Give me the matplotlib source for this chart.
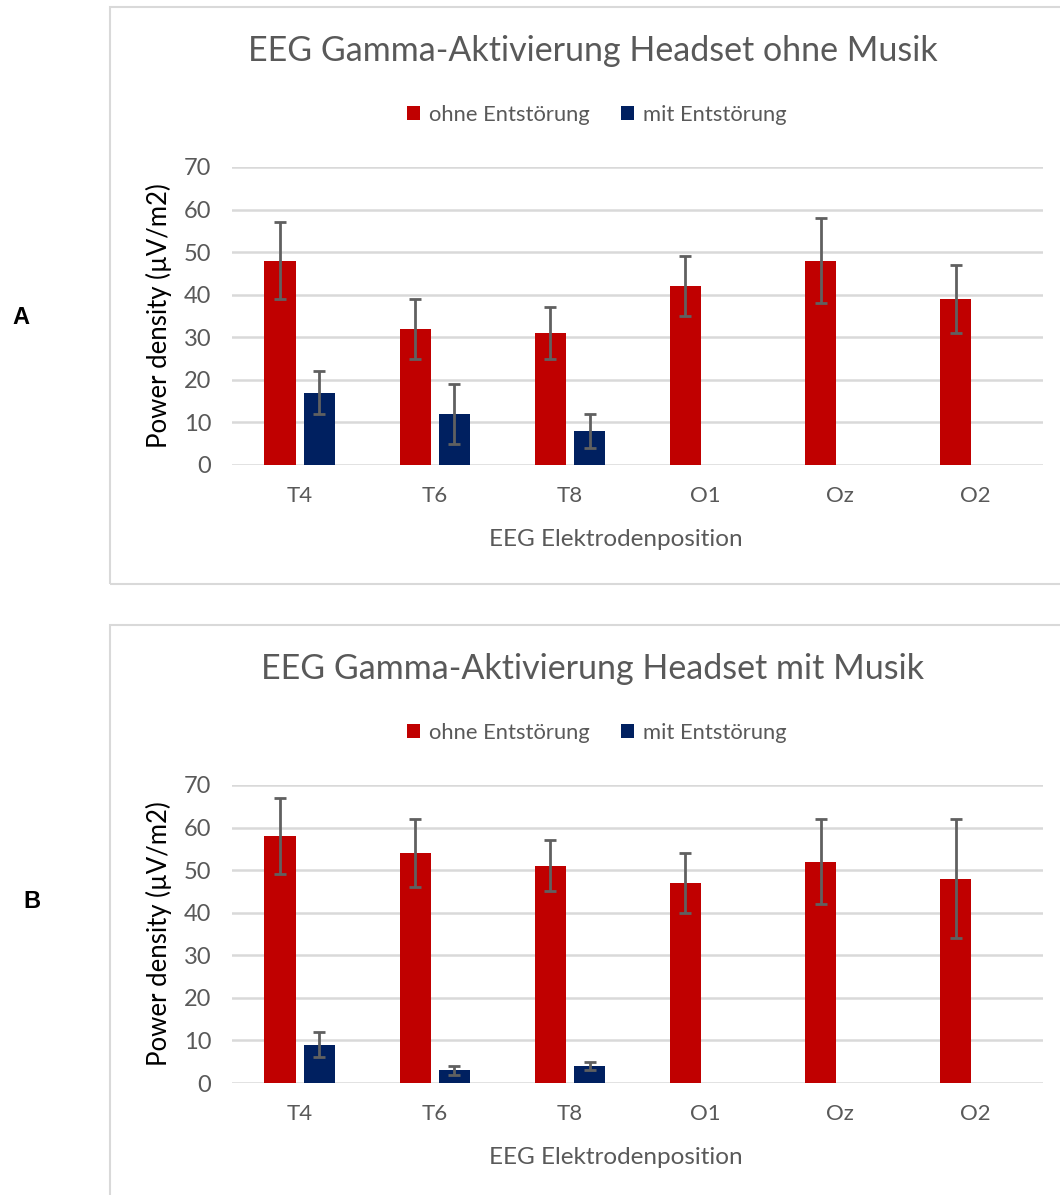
import numpy as np
import matplotlib.pyplot as plt
from matplotlib.patches import Rectangle

# data
electrodes = ["T4", "T6", "T8", "O1", "Oz", "O2"]

a_ohne = [48, 32, 31, 42, 48, 39]
a_ohne_lo = [39, 25, 25, 35, 38, 31]
a_ohne_hi = [57, 39, 37, 49, 58, 47]
a_mit = [17, 12, 8]
a_mit_lo = [12, 5, 4]
a_mit_hi = [22, 19, 12]

b_ohne = [58, 54, 51, 47, 52, 48]
b_ohne_lo = [49, 46, 45, 40, 42, 34]
b_ohne_hi = [67, 62, 57, 54, 62, 62]
b_mit = [9, 3, 4]
b_mit_lo = [6, 2, 3]
b_mit_hi = [12, 4, 5]

titles = ["EEG Gamma-Aktivierung Headset ohne Musik",
          "EEG Gamma-Aktivierung Headset mit Musik"]

red = "#c00000"
navy = "#002060"
grey = "#595959"
grid = "#d9d9d9"
font = "Lato"

fig = plt.figure(figsize=(10.6, 11.95), dpi=100)

# frames round each chart
fig.patches.append(Rectangle((110/1060, 1-584/1195), 1.0, 577/1195, transform=fig.transFigure,
                             fill=False, edgecolor=grid, lw=1.5))
fig.patches.append(Rectangle((110/1060, -0.01), 1.0, 1-625/1195+0.01, transform=fig.transFigure,
                             fill=False, edgecolor=grid, lw=1.5))

def draw(bottom, vals, lo, hi, mvals, mlo, mhi, title, letter, lx, ly, top_px):
    ax = fig.add_axes([0.2189, bottom, 0.765, 0.2494])
    x = np.arange(len(electrodes))
    w = 0.23
    vals = np.array(vals)
    err = [vals - np.array(lo), np.array(hi) - vals]
    ax.bar(x - 0.145, vals, w, color=red, label="ohne Entstörung", zorder=2)
    ax.errorbar(x - 0.145, vals, yerr=err, fmt="none", ecolor="#606060", elinewidth=2,
                capsize=4.5, capthick=2, zorder=3)
    xm = x[:len(mvals)]
    mvals = np.array(mvals)
    merr = [mvals - np.array(mlo), np.array(mhi) - mvals]
    ax.bar(xm + 0.145, mvals, w, color=navy, label="mit Entstörung", zorder=2)
    ax.errorbar(xm + 0.145, mvals, yerr=merr, fmt="none", ecolor="#606060", elinewidth=2,
                capsize=4.5, capthick=2, zorder=3)
    ax.set_xlim(-0.5, 5.5)
    ax.set_ylim(0, 70)
    ax.set_yticks(range(0, 71, 10))
    ax.set_xticks(x)
    ax.set_xticklabels(electrodes)
    ax.yaxis.grid(True, color=grid, lw=1.8, zorder=0)
    ax.set_axisbelow(True)
    for s in ax.spines.values():
        s.set_visible(False)
    ax.tick_params(axis="y", length=0, labelsize=17, labelcolor=grey, pad=15)
    ax.tick_params(axis="x", length=0, labelsize=16, labelcolor=grey, pad=15)
    for lab in ax.get_xticklabels() + ax.get_yticklabels():
        lab.set_fontfamily(font)
    ax.set_ylabel("Power density (µV/m2)", fontsize=18.5, color="black", family=font, labelpad=8)
    ax.set_xlabel("EEG Elektrodenposition", fontsize=17.5, color=grey, family=font)
    ax.xaxis.set_label_coords(0.4735, -0.215)
    fig.text(0.559, 1 - (top_px + 44)/1195, title, ha="center", va="center",
             fontsize=24.5, color=grey, family=font)
    ax.legend(loc="center", bbox_to_anchor=(0.563, 1 - (top_px + 108)/1195),
              bbox_transform=fig.transFigure, ncol=2, frameon=False,
              prop={"family": font, "size": 15.8}, labelcolor=grey,
              handlelength=0.6, handleheight=0.6, handletextpad=0.4, columnspacing=1.4)
    fig.text(lx/1060, 1 - ly/1195, letter, ha="center", va="center",
             fontsize=17, fontweight="bold", family="Liberation Sans")
    return ax

draw(0.6109, a_ohne, a_ohne_lo, a_ohne_hi, a_mit, a_mit_lo, a_mit_hi,
     titles[0], "A", 21, 318, 7)
draw(0.0937, b_ohne, b_ohne_lo, b_ohne_hi, b_mit, b_mit_lo, b_mit_hi,
     titles[1], "B", 32, 902, 625)

fig.savefig("out.png", dpi=100)
